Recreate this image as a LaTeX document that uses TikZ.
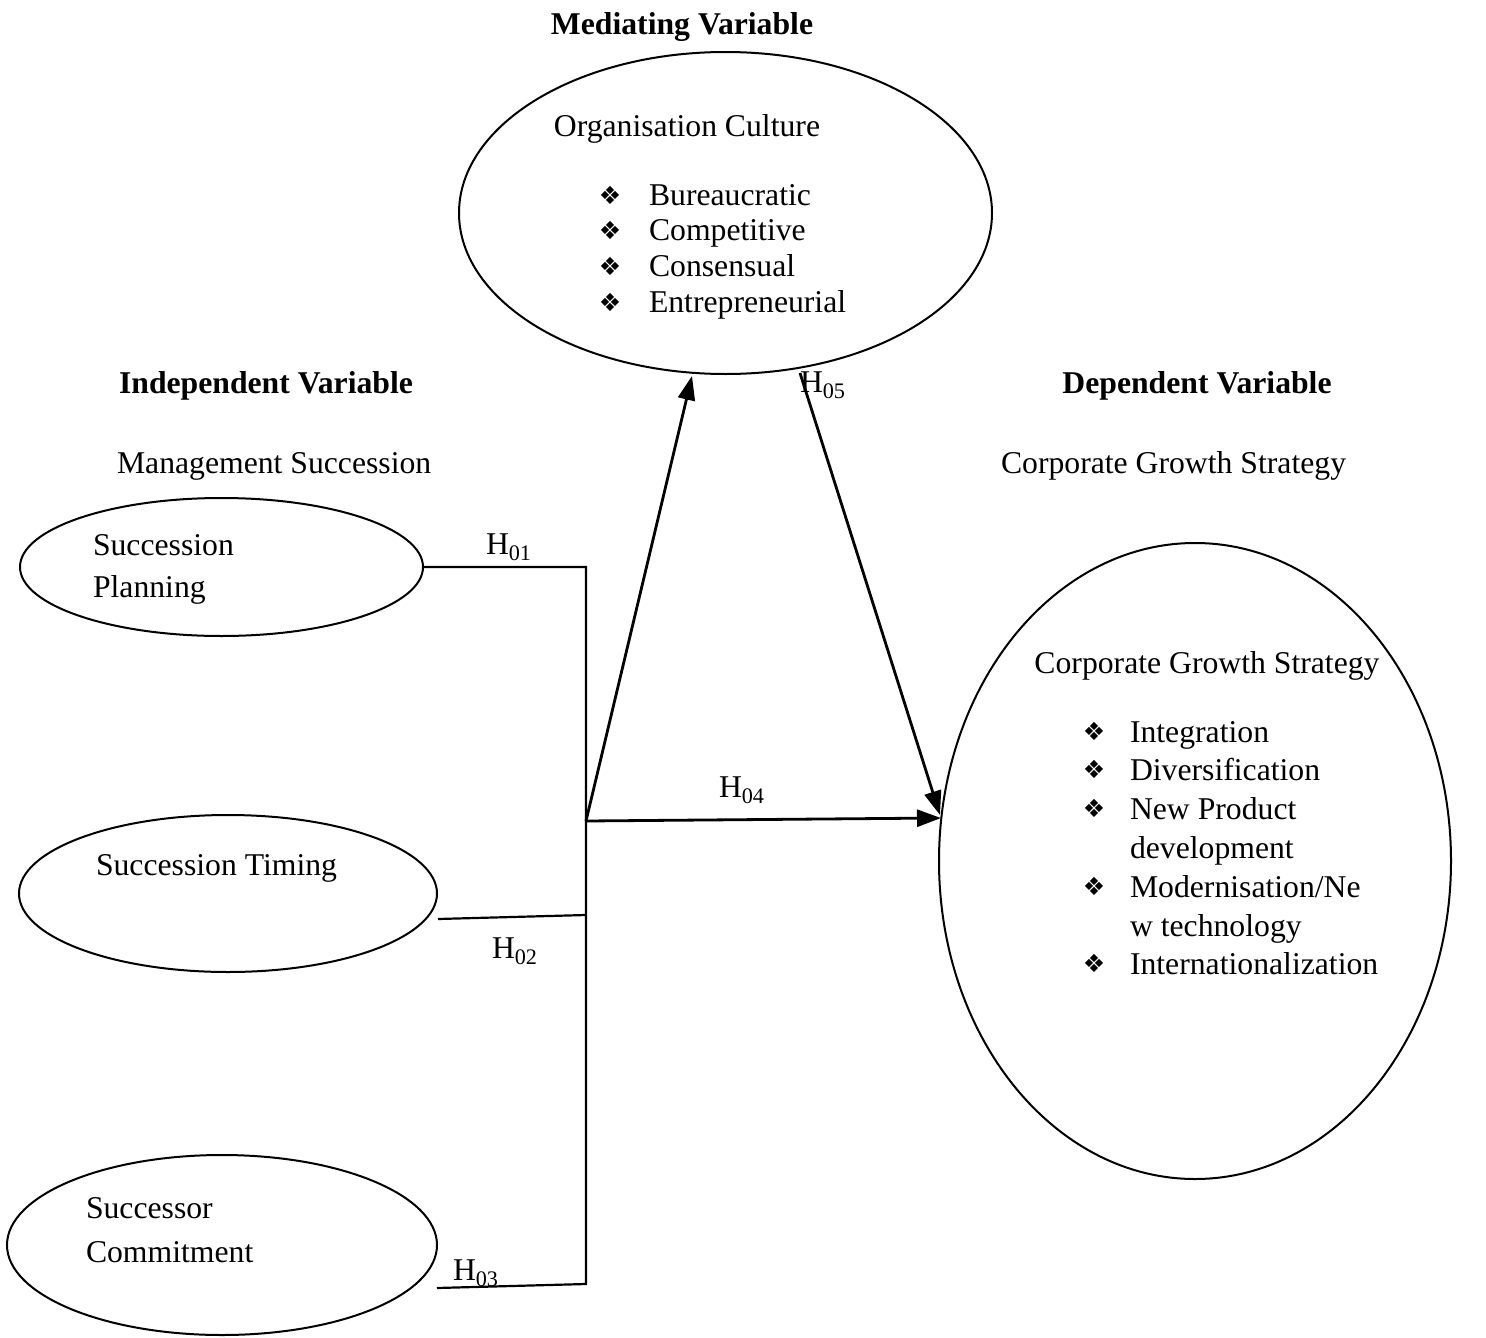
\documentclass[tikz,border=0pt]{standalone}
\usepackage{fontspec}
\setmainfont{Liberation Serif}
\newfontfamily\dingfont{DejaVu Sans}
\usetikzlibrary{arrows.meta,shapes.geometric}

\begin{document}
\begin{tikzpicture}[x=1pt,y=-1pt,
  every node/.style={font=\fontsize{31.7}{37}\selectfont, inner sep=0pt, outer sep=0pt},
  oval/.style={draw, ellipse, line width=2pt, inner sep=0pt},
  head/.style={font=\fontsize{31.7}{37}\selectfont\bfseries, anchor=base},
  txt/.style={anchor=base west},
  bul/.style={font=\dingfont\fontsize{25}{25}\selectfont, anchor=center},
  link/.style={line width=2.2pt},
  arr/.style={line width=2.8pt, -{Triangle[length=24pt,width=17pt]}}
]
\useasboundingbox (0,0) rectangle (1486,1338);

% headings
\node[head] (hmed) at (682,35) {Mediating Variable};
\node[head] (hind) at (266,393) {Independent Variable};
\node[head] (hdep) at (1197,393) {Dependent Variable};
\node[txt] (hms) at (117,473) {Management Succession};
\node[txt] (hcgs) at (1001,473) {Corporate Growth Strategy};

% ellipses
\node[oval, minimum width=533pt, minimum height=322pt] (oc) at (725.5,213) {};
\node[oval, minimum width=403pt, minimum height=138pt] (sp) at (221.5,567) {};
\node[oval, minimum width=418pt, minimum height=157pt] (st) at (228,893.5) {};
\node[oval, minimum width=430pt, minimum height=180pt] (sc) at (222,1245) {};
\node[oval, minimum width=512pt, minimum height=636pt] (cg) at (1195,861) {};

% ellipse texts
\node[anchor=base] (octitle) at (687,136) {Organisation Culture};
\foreach \t [count=\i] in {Bureaucratic, Competitive, Consensual, Entrepreneurial} {
  \node[txt] (oc\i) at (649,{205+35.7*(\i-1)}) {\t};
  \node[bul] (ocb\i) at (610,{195+35.7*(\i-1)}) {❖};
}
\node[txt] (sp1) at (93,555) {Succession};
\node[txt] (sp2) at (93,597) {Planning};
\node[txt] (st1) at (96,875) {Succession Timing};
\node[txt] (sc1) at (86,1218) {Successor};
\node[txt] (sc2) at (86,1262) {Commitment};

\node[anchor=base] (cgtitle) at (1207,673) {Corporate Growth Strategy};
\foreach \t [count=\i] in {Integration, Diversification, New Product, development, Modernisation/Ne, w technology, Internationalization} {
  \node[txt] (cg\i) at (1130,{742+38.8*(\i-1)}) {\t};
}
\foreach \i in {1,2,3,5,7} {
  \node[bul] (cgb\i) at (1094,{731+38.8*(\i-1)}) {❖};
}

% connector points
\coordinate (j1) at (586,567);
\coordinate (j2) at (586,915);
\coordinate (j3) at (586,1284);
\coordinate (jm) at (586,821);
\coordinate (t2) at (438,919);
\coordinate (t3) at (437,1288);
\coordinate (ocb) at (692,376);
\coordinate (ocs) at (800,373);
\coordinate (cga) at (940,815);
\coordinate (cgb) at (941,818);

\draw[link] (sp.east) -- (j1) -- (j3) -- (t3);
\draw[link] (t2) -- (j2);
\draw[arr] (jm) -- (ocb);
\draw[arr] (jm) -- (cgb);
\draw[arr] (ocs) -- (cga);

% hypothesis labels
\node[txt] (h01) at (486,554) {H\textsubscript{01}};
\node[txt] (h02) at (492,958) {H\textsubscript{02}};
\node[txt] (h03) at (453,1280) {H\textsubscript{03}};
\node[txt] (h04) at (719,797) {H\textsubscript{04}};
\node[txt] (h05) at (800,392) {H\textsubscript{05}};
\end{tikzpicture}
\end{document}
